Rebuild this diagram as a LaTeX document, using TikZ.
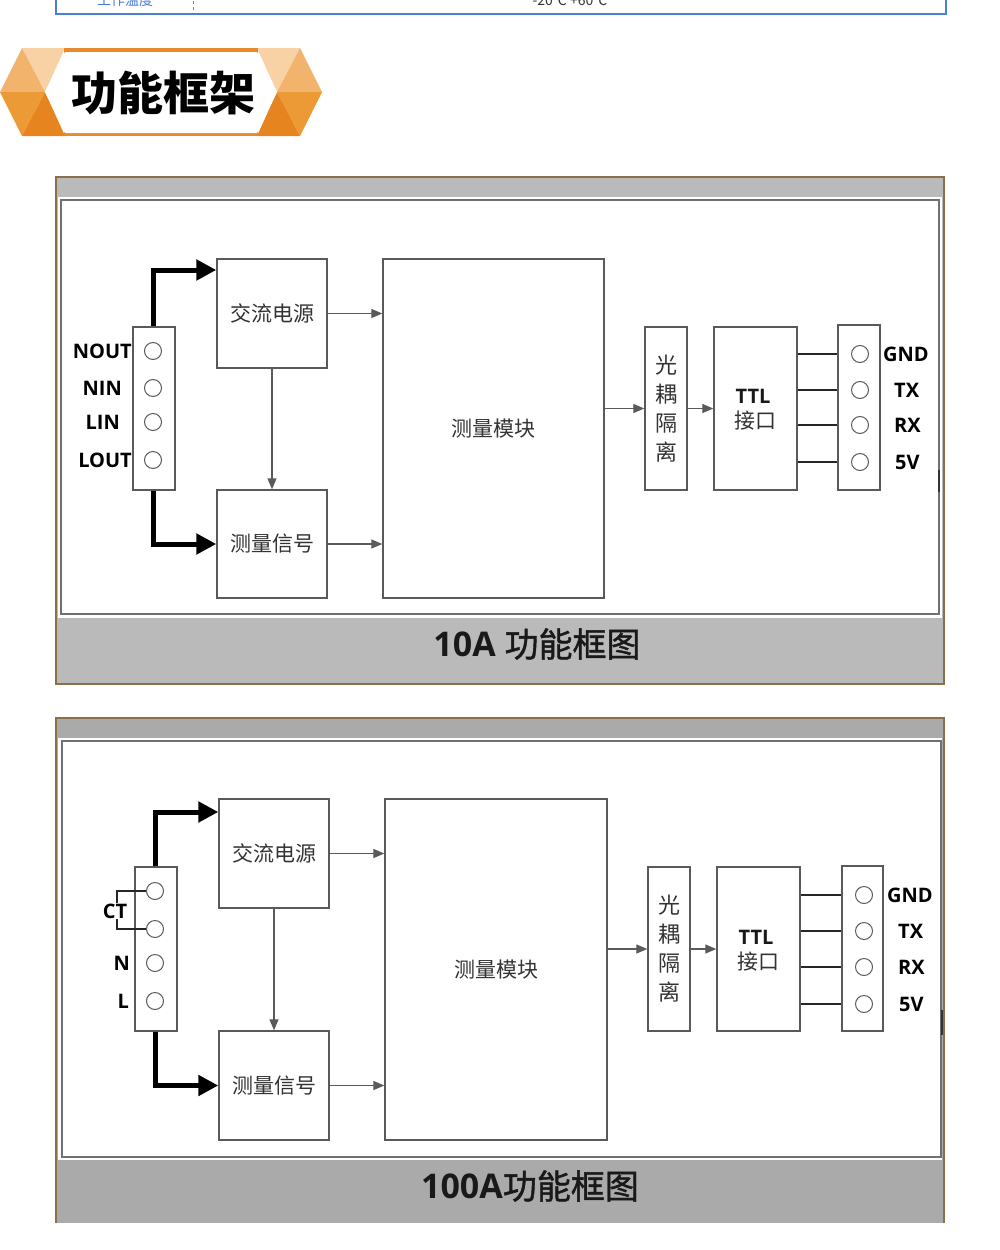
\documentclass[tikz,border=0pt]{standalone}
\usepackage{fontspec}
\setmainfont{Open Sans}
\newfontfamily\cjk{Noto Sans CJK SC}
\newfontfamily\cjkmed{Noto Sans CJK SC}[FakeBold=1.2]
\newfontfamily\lat{Open Sans}
\usetikzlibrary{arrows.meta}
\definecolor{bandA}{HTML}{BABABA}
\definecolor{bandB}{HTML}{AAAAAA}
\definecolor{framebrown}{HTML}{8C6E48}
\definecolor{boxgray}{HTML}{5A5A5A}
\definecolor{panelgray}{HTML}{707070}
\definecolor{txtgray}{HTML}{333333}
\definecolor{tblue}{HTML}{4A7FD4}
\definecolor{orA}{HTML}{F8D2A4}
\definecolor{orB}{HTML}{F2B46C}
\definecolor{orC}{HTML}{EC9A35}
\definecolor{orD}{HTML}{E6841F}
\definecolor{orBand}{HTML}{E8892B}
\tikzset{
  box/.style={draw=boxgray, line width=1.4pt, fill=white, inner sep=0pt, text=txtgray,
    font=\cjk\fontsize{21}{21}\selectfont},
  term/.style={circle, draw=boxgray, line width=1pt, minimum size=17pt, inner sep=0pt},
  lbl/.style={font=\lat\bfseries\fontsize{20}{20}\selectfont, inner sep=0pt},
  conn/.style={draw=boxgray, line width=1.3pt, -{Triangle[length=11pt,width=9pt]}},
  wire/.style={draw=black!85, line width=2pt},
  bigarrow/.style={draw=black, line width=5pt, -{Triangle[length=20pt,width=20pt]}},
  bandtitle/.style={font=\fontsize{34}{34}\selectfont, text=black!90},
  ttltext/.style={font=\lat\bfseries\fontsize{20}{20}\selectfont, text=black!90, inner sep=0pt},
  stray/.style={draw=black!80, line width=2.5pt}
}
\begin{document}
\begin{tikzpicture}[x=1pt,y=-1pt]
\useasboundingbox (0,0) rectangle (1000,1250);
\fill[white] (0,0) rectangle (1000,1250);

% ---- cut-off table row at top ----
\node[font=\cjk\fontsize{14}{14}\selectfont, text=tblue] (trowa) at (125,0) {工作温度};
\node[font=\cjk\fontsize{14}{14}\selectfont, text=black!80] (trowb) at (570,0) {-20℃~+60℃};
\draw[gray, dashed, line width=0.6pt] (193,-5) -- (193,13);
\draw[tblue, line width=1.8pt] (56,-5) -- (56,14) -- (946,14) -- (946,-5);

% ---- banner ----
\fill[orA] (22,48) -- (65,48) -- (45,92) -- cycle;
\fill[orB] (22,48) -- (45,92) -- (0,92) -- cycle;
\fill[orC] (0,92) -- (45,92) -- (22,136) -- cycle;
\fill[orD] (45,92) -- (65,136) -- (22,136) -- cycle;
\fill[orA] (300,48) -- (257,48) -- (277,92) -- cycle;
\fill[orB] (300,48) -- (277,92) -- (322,92) -- cycle;
\fill[orC] (322,92) -- (277,92) -- (300,136) -- cycle;
\fill[orD] (277,92) -- (257,136) -- (300,136) -- cycle;
\fill[orBand] (64,48) rectangle (258,53);
\fill[orBand] (64,132) rectangle (258,136);
\fill[white] (65,52) -- (45,92) -- (65,133) -- (257,133) -- (277,92) -- (257,52) -- cycle;
\node[font=\cjk\bfseries\fontsize{46}{46}\selectfont, text=black] (banner) at (163,93) {功能框架};

% ================= diagram 1 =================
\fill[bandA] (56,177) rectangle (944,684);
\draw[framebrown, line width=1.5pt] (56,177) rectangle (944,684);
\fill[white] (58,197) rectangle (942,618);
\draw[panelgray, line width=1.6pt] (61,200) rectangle (939,614);
\draw[stray] (939,470) -- (939,492);
\node[bandtitle] (a-title) at (537,644) {{\lat\bfseries 10A} {\cjkmed\mdseries 功能框图}};

\node[box, minimum width=110pt, minimum height=109pt] (a-ps) at (272,313.5) {交流电源};
\node[box, minimum width=110pt, minimum height=108pt] (a-ms) at (272,544) {测量信号};
\node[box, minimum width=221pt, minimum height=339pt] (a-mm) at (493.5,428.5) {测量模块};
\node[box, minimum width=42pt, minimum height=163pt, align=center,
  font=\cjk\fontsize{22}{29}\selectfont] (a-oc) at (666,408.5) {光\\耦\\隔\\离};
\node[box, minimum width=83pt, minimum height=163pt] (a-ttl) at (755.5,408.5) {};
\node[ttltext] (a-ttl1) at (753,396) {TTL};
\node[text=txtgray, font=\cjk\fontsize{21}{21}\selectfont, inner sep=0pt] (a-ttl2) at (755,421) {接口};
\node[box, minimum width=42pt, minimum height=163pt] (a-lt) at (154,408.5) {};
\node[box, minimum width=42pt, minimum height=165pt] (a-rt) at (859,407.5) {};

\node[term] (a-c1) at (153,351) {};
\node[term] (a-c2) at (153,388) {};
\node[term] (a-c3) at (153,422) {};
\node[term] (a-c4) at (153,460) {};
\node[lbl, anchor=east] (a-l1) at (132,351) {NOUT};
\node[lbl, anchor=east] (a-l2) at (122,388) {NIN};
\node[lbl, anchor=east] (a-l3) at (120,422) {LIN};
\node[lbl, anchor=east] (a-l4) at (132,460) {LOUT};

\node[term] (a-r1) at (860,354) {};
\node[term] (a-r2) at (860,390) {};
\node[term] (a-r3) at (860,425) {};
\node[term] (a-r4) at (860,462) {};
\node[lbl, anchor=west] (a-g1) at (883,354) {GND};
\node[lbl, anchor=west] (a-g2) at (894,390) {TX};
\node[lbl, anchor=west] (a-g3) at (894,425) {RX};
\node[lbl, anchor=west] (a-g4) at (895,462) {5V};

\draw[wire] (a-ttl.east |- a-r1) -- (a-rt.west |- a-r1);
\draw[wire] (a-ttl.east |- a-r2) -- (a-rt.west |- a-r2);
\draw[wire] (a-ttl.east |- a-r3) -- (a-rt.west |- a-r3);
\draw[wire] (a-ttl.east |- a-r4) -- (a-rt.west |- a-r4);

\draw[conn] (a-ps.east) -- (a-ps.east -| a-mm.west);
\draw[conn] (a-ms.east) -- (a-ms.east -| a-mm.west);
\draw[conn] (a-ps.south) -- (a-ms.north);
\draw[conn] (a-mm.east |- a-oc.center) -- (a-oc.west);
\draw[conn] (a-oc.east) -- (a-ttl.west);

\coordinate (a-k1) at (153,270);
\coordinate (a-k2) at (153,544);
\draw[bigarrow] (a-lt.north -| a-k1) -- (a-k1) -- (a-k1 -| a-ps.west);
\draw[bigarrow] (a-lt.south -| a-k2) -- (a-k2) -- (a-ms.west);

% ================= diagram 2 =================
\fill[bandB] (56,718) rectangle (944,1223);
\draw[framebrown, line width=1.5pt] (56,1223) -- (56,718) -- (944,718) -- (944,1223);
\fill[white] (58,738) rectangle (942,1160);
\draw[panelgray, line width=1.6pt] (62,741) rectangle (941,1157);
\draw[stray] (942,1010) -- (942,1035);
\node[bandtitle] (b-title) at (530,1186) {{\lat\bfseries 100A}{\cjkmed\mdseries 功能框图}};

\node[box, minimum width=110pt, minimum height=109pt] (b-ps) at (274,853.5) {交流电源};
\node[box, minimum width=110pt, minimum height=109pt] (b-ms) at (274,1085.5) {测量信号};
\node[box, minimum width=222pt, minimum height=341pt] (b-mm) at (496,969.5) {测量模块};
\node[box, minimum width=42pt, minimum height=164pt, align=center,
  font=\cjk\fontsize{22}{29}\selectfont] (b-oc) at (669,949) {光\\耦\\隔\\离};
\node[box, minimum width=83pt, minimum height=164pt] (b-ttl) at (758.5,949) {};
\node[ttltext] (b-ttl1) at (756,937) {TTL};
\node[text=txtgray, font=\cjk\fontsize{21}{21}\selectfont, inner sep=0pt] (b-ttl2) at (758,962) {接口};
\node[box, minimum width=42pt, minimum height=164pt] (b-lt) at (156,949) {};
\node[box, minimum width=41pt, minimum height=165pt] (b-rt) at (862.5,948.5) {};

\node[term] (b-c1) at (155,891) {};
\node[term] (b-c2) at (155,929) {};
\node[term] (b-c3) at (155,963) {};
\node[term] (b-c4) at (155,1001) {};
\draw[draw=black!85, line width=1.3pt] (b-c1.west) -| (117,903);
\draw[draw=black!85, line width=1.3pt] (b-c2.west) -| (117,919);
\node[lbl] (b-ct) at (115,911) {CT};
\node[lbl, anchor=east] (b-l3) at (130,963) {N};
\node[lbl, anchor=east] (b-l4) at (129,1001) {L};

\node[term] (b-r1) at (864,895) {};
\node[term] (b-r2) at (864,931) {};
\node[term] (b-r3) at (864,967) {};
\node[term] (b-r4) at (864,1004) {};
\node[lbl, anchor=west] (b-g1) at (887,895) {GND};
\node[lbl, anchor=west] (b-g2) at (898,931) {TX};
\node[lbl, anchor=west] (b-g3) at (898,967) {RX};
\node[lbl, anchor=west] (b-g4) at (899,1004) {5V};

\draw[wire] (b-ttl.east |- b-r1) -- (b-rt.west |- b-r1);
\draw[wire] (b-ttl.east |- b-r2) -- (b-rt.west |- b-r2);
\draw[wire] (b-ttl.east |- b-r3) -- (b-rt.west |- b-r3);
\draw[wire] (b-ttl.east |- b-r4) -- (b-rt.west |- b-r4);

\draw[conn] (b-ps.east) -- (b-ps.east -| b-mm.west);
\draw[conn] (b-ms.east) -- (b-ms.east -| b-mm.west);
\draw[conn] (b-ps.south) -- (b-ms.north);
\draw[conn] (b-mm.east |- b-oc.center) -- (b-oc.west);
\draw[conn] (b-oc.east) -- (b-ttl.west);

\coordinate (b-k1) at (155,812);
\coordinate (b-k2) at (155,1085.5);
\draw[bigarrow] (b-lt.north -| b-k1) -- (b-k1) -- (b-k1 -| b-ps.west);
\draw[bigarrow] (b-lt.south -| b-k2) -- (b-k2) -- (b-ms.west);
\end{tikzpicture}
\end{document}
